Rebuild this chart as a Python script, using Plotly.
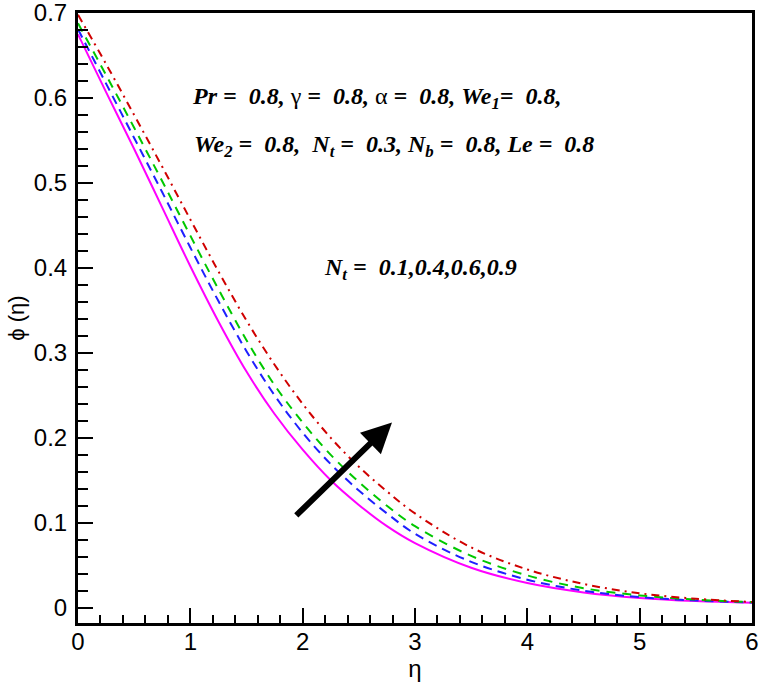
import plotly.graph_objects as go

# eta grid and concentration profiles phi(eta) for Nt = 0.1, 0.4, 0.6, 0.9
eta = [0, 0.25, 0.5, 0.75, 1.0, 1.25, 1.5, 1.75, 2.0, 2.25, 2.5, 2.75,
       3.0, 3.5, 4.0, 4.5, 5.0, 5.5, 6.0]
phi_nt01 = [0.675, 0.607, 0.540, 0.471, 0.402, 0.337, 0.278, 0.228, 0.186, 0.150,
            0.121, 0.096, 0.076, 0.047, 0.029, 0.018, 0.0115, 0.0078, 0.0058]
phi_nt04 = [0.681, 0.617, 0.553, 0.489, 0.424, 0.361, 0.302, 0.250, 0.206, 0.169,
            0.138, 0.111, 0.087, 0.054, 0.033, 0.020, 0.0125, 0.0085, 0.006]
phi_nt06 = [0.688, 0.627, 0.565, 0.502, 0.438, 0.375, 0.315, 0.262, 0.218, 0.180,
            0.148, 0.120, 0.096, 0.061, 0.038, 0.023, 0.0145, 0.0095, 0.0065]
phi_nt09 = [0.698, 0.640, 0.580, 0.519, 0.457, 0.396, 0.338, 0.286, 0.240, 0.200,
            0.166, 0.137, 0.111, 0.071, 0.045, 0.028, 0.017, 0.0105, 0.0068]

# arrow (tail -> head), in data units
arrow_tail = (1.93, 0.107)
arrow_head = (2.795, 0.218)

styles = [
    (phi_nt01, "#FF00FF", "solid"),
    (phi_nt04, "#1F1FFF", "9px,6px"),
    (phi_nt06, "#00C800", "9px,7px"),
    (phi_nt09, "#D00000", "8px,5px,2px,5px"),
]

fig = go.Figure()
for ys, color, dash in styles:
    fig.add_trace(go.Scatter(
        x=eta, y=ys, mode="lines",
        line=dict(color=color, width=2, dash=dash, shape="spline", smoothing=1.0),
        showlegend=False,
    ))

serif = dict(family="Liberation Serif, Times New Roman, serif", size=24, color="black")
sp = "\u00a0"

line1 = (f"<b><i>Pr ={sp} 0.8, </i></b>γ<b><i> ={sp} 0.8, </i></b>α<b><i> ={sp} 0.8, "
         f"We<sub>1</sub>={sp} 0.8,</i></b>")
line2 = (f"<b><i>We<sub>2</sub> ={sp} 0.8,{sp} N<sub>t</sub> ={sp} 0.3, "
         f"N<sub>b</sub> ={sp} 0.8, Le ={sp} 0.8</i></b>")
line3 = f"<b><i>N<sub>t</sub> ={sp} 0.1,0.4,0.6,0.9</i></b>"

for text, x, y in [(line1, 0.997, 0.600), (line2, 1.015, 0.544), (line3, 2.17, 0.399)]:
    fig.add_annotation(x=x, y=y, text=text, showarrow=False,
                       xanchor="left", yanchor="middle", font=serif)

fig.add_annotation(
    x=arrow_head[0], y=arrow_head[1], ax=arrow_tail[0], ay=arrow_tail[1],
    xref="x", yref="y", axref="x", ayref="y", text="",
    showarrow=True, arrowhead=2, arrowsize=1.0, arrowwidth=6, arrowcolor="black",
)

axis_font = dict(family="Liberation Sans, Arial, sans-serif", size=24, color="black")

fig.update_xaxes(
    range=[0, 6], dtick=1, tick0=0, automargin=False,
    showline=True, linewidth=3, linecolor="black", mirror=True,
    ticks="inside", ticklen=15, tickwidth=2, tickcolor="black",
    minor=dict(dtick=0.2, ticks="inside", ticklen=8, tickwidth=2, tickcolor="black"),
    showgrid=False, zeroline=False, ticklabeloverflow="allow",
    tickfont=axis_font, ticklabelstandoff=-5,
    title=dict(text="η", font=axis_font, standoff=0),
)
fig.update_yaxes(
    range=[-0.018, 0.7001], dtick=0.1, tick0=0, automargin=False,
    showline=True, linewidth=3, linecolor="black", mirror=True,
    ticks="inside", ticklen=15, tickwidth=2, tickcolor="black",
    minor=dict(dtick=0.02, ticks="inside", ticklen=10, tickwidth=2, tickcolor="black"),
    showgrid=False, zeroline=False, ticklabeloverflow="allow",
    tickfont=axis_font, ticklabelstandoff=3,
    title=dict(text="ϕ (η)", font=dict(family="Liberation Sans, Arial, sans-serif",
                                       size=22, color="black"), standoff=4),
)

fig.update_layout(
    width=762, height=684,
    margin=dict(l=78, r=10, t=13, b=61),
    plot_bgcolor="white", paper_bgcolor="white",
)

fig.write_html("out.html", config={"displayModeBar": False},
               post_script="document.body.style.margin = '0';")
